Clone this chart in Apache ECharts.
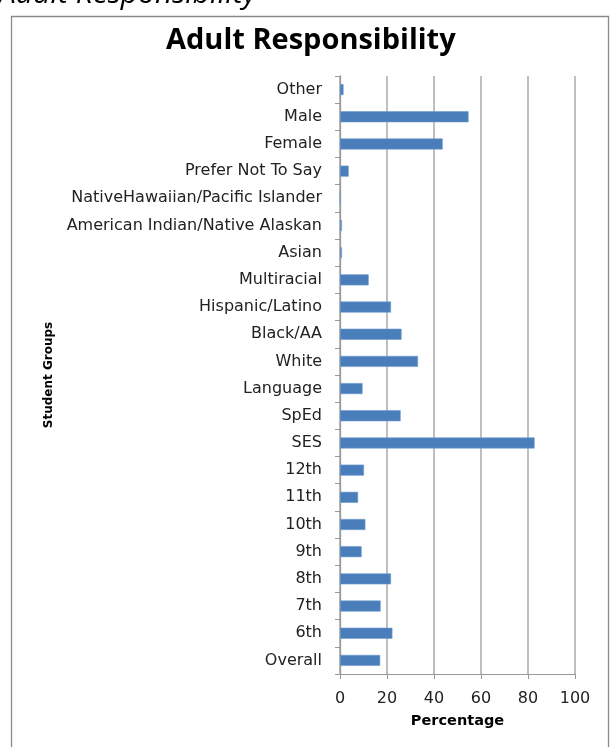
<!DOCTYPE html>
<html>
<head>
<meta charset="utf-8">
<script src="https://cdn.jsdelivr.net/npm/echarts@6/dist/echarts.min.js"></script>
<style>
  html, body { margin: 0; padding: 0; background: #fff; }
  #chart { width: 611px; height: 747px; }
</style>
</head>
<body>
<div id="chart"></div>
<script>
// Student groups, listed top to bottom
const groups = [
  'Other', 'Male', 'Female', 'Prefer Not To Say',
  'NativeHawaiian/Pacific Islander', 'American Indian/Native Alaskan',
  'Asian', 'Multiracial', 'Hispanic/Latino', 'Black/AA', 'White',
  'Language', 'SpEd', 'SES', '12th', '11th', '10th', '9th',
  '8th', '7th', '6th', 'Overall'
];

// Percentage of students reporting adult responsibility
const percentages = [
  1.5, 54.7, 43.7, 3.7,
  0, 0.8,
  0.8, 12.2, 21.7, 26.2, 33.2,
  9.6, 25.8, 82.8, 10.2, 7.7, 10.8, 9.2,
  21.7, 17.3, 22.3, 17.1
];

const pctTicks = [0, 20, 40, 60, 80, 100];

const chart = echarts.init(document.getElementById('chart'));
const labelFont = 'DejaVu Sans';

chart.setOption({
  animation: false,
  backgroundColor: '#ffffff',
  graphic: [
    {
      // heading of the page section, partly above the top edge
      type: 'text', x: -1, y: -6,
      style: {
        text: 'Adult Responsibility',
        font: 'italic 30px "Open Sans"',
        fill: '#000',
        verticalAlign: 'middle'
      }
    },
    {
      // chart frame
      type: 'rect',
      shape: { x: 11.5, y: 16.5, width: 597, height: 760 },
      style: { fill: 'none', stroke: '#8a8a8a', lineWidth: 1.3 }
    }
  ],
  title: {
    text: 'Adult Responsibility',
    left: 161,
    top: 21,
    textStyle: {
      fontFamily: 'Open Sans',
      fontWeight: 'bold',
      fontSize: 29,
      color: '#000'
    }
  },
  grid: { left: 340, top: 76, width: 235, height: 598 },
  xAxis: {
    type: 'value',
    min: pctTicks[0],
    max: pctTicks[pctTicks.length - 1],
    interval: 20,
    name: 'Percentage',
    nameLocation: 'middle',
    nameGap: 40,
    nameTextStyle: { fontFamily: labelFont, fontWeight: 'bold', fontSize: 14.5, color: '#000' },
    axisLine: { show: true, lineStyle: { color: '#999', width: 1 } },
    axisTick: { show: true, length: 5, lineStyle: { color: '#999' } },
    axisLabel: { fontFamily: labelFont, fontSize: 16, color: '#222', margin: 17 },
    splitLine: { show: true, lineStyle: { color: '#aaa', width: 1.5 } }
  },
  yAxis: {
    type: 'category',
    data: groups,
    inverse: true,
    name: 'Student Groups',
    nameLocation: 'middle',
    nameGap: 285,
    nameRotate: 90,
    nameTextStyle: { fontFamily: labelFont, fontWeight: 'bold', fontSize: 12, color: '#000' },
    axisLine: { show: true, lineStyle: { color: '#999', width: 1.3 } },
    axisTick: { show: true, length: 5, inside: false, lineStyle: { color: '#999' } },
    axisLabel: { fontFamily: labelFont, fontSize: 16, color: '#222', margin: 18 },
    splitLine: { show: false }
  },
  series: [{
    type: 'bar',
    data: percentages,
    barWidth: 11,
    itemStyle: { color: '#4a7ebb', borderColor: '#6e9bd0', borderWidth: 0.6 }
  }]
});
</script>
</body>
</html>
